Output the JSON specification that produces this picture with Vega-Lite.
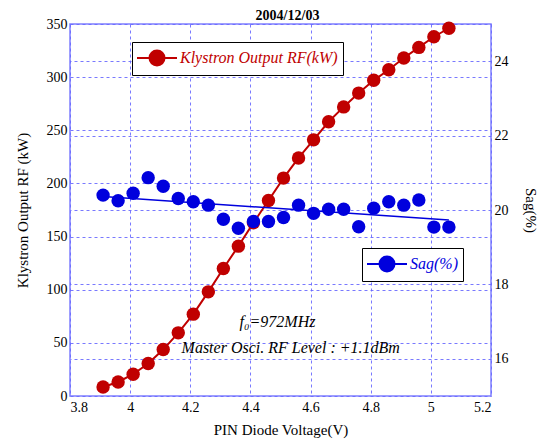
{
  "$schema": "https://vega.github.io/schema/vega-lite/v6.json",
  "width": 421,
  "height": 372,
  "autosize": {"type": "none"},
  "padding": {"left": 70, "top": 24, "right": 53, "bottom": 45},
  "background": "white",
  "title": {"text": "2004/12/03", "font": "Liberation Serif", "fontSize": 14, "fontWeight": "bold", "offset": -6, "dx": 7, "color": "black"},
  "config": {
    "font": "Liberation Serif",
    "view": {"stroke": "#7f7fff", "strokeWidth": 1.5},
    "axis": {
      "labelFont": "Liberation Serif", "labelFontSize": 14, "labelColor": "black",
      "titleFont": "Liberation Serif", "titleFontSize": 15, "titleFontWeight": "normal", "titleColor": "black",
      "domain": false, "ticks": false,
      "gridColor": "#6a6aff", "gridDash": [3, 3], "gridWidth": 1, "gridOpacity": 0.9
    }
  },
  "data": {"values": [
    {"v": 3.91, "rf": 8.5, "sag": 20.40},
    {"v": 3.96, "rf": 13.2, "sag": 20.25},
    {"v": 4.01, "rf": 20.5, "sag": 20.45},
    {"v": 4.06, "rf": 30.5, "sag": 20.87},
    {"v": 4.11, "rf": 43.7, "sag": 20.64},
    {"v": 4.16, "rf": 59.4, "sag": 20.31},
    {"v": 4.21, "rf": 77, "sag": 20.22},
    {"v": 4.26, "rf": 98, "sag": 20.13},
    {"v": 4.31, "rf": 120, "sag": 19.75},
    {"v": 4.36, "rf": 141, "sag": 19.51},
    {"v": 4.41, "rf": 163, "sag": 19.69},
    {"v": 4.46, "rf": 184, "sag": 19.69},
    {"v": 4.51, "rf": 205, "sag": 19.80},
    {"v": 4.56, "rf": 224, "sag": 20.13},
    {"v": 4.61, "rf": 241, "sag": 19.91},
    {"v": 4.66, "rf": 258, "sag": 20.02},
    {"v": 4.71, "rf": 272, "sag": 20.02},
    {"v": 4.76, "rf": 285, "sag": 19.55},
    {"v": 4.81, "rf": 297, "sag": 20.05},
    {"v": 4.86, "rf": 307, "sag": 20.22},
    {"v": 4.91, "rf": 318, "sag": 20.13},
    {"v": 4.96, "rf": 328, "sag": 20.27},
    {"v": 5.01, "rf": 338, "sag": 19.54},
    {"v": 5.06, "rf": 346, "sag": 19.54}
  ]},
  "encoding": {
    "x": {
      "field": "v", "type": "quantitative",
      "scale": {"domain": [3.8, 5.2], "nice": false},
      "axis": {"values": [3.8, 4, 4.2, 4.4, 4.6, 4.8, 5, 5.2], "format": "~g", "title": "PIN Diode Voltage(V)", "grid": true, "labelPadding": 4, "titlePadding": 8}
    }
  },
  "layer": [
    {
      "mark": {"type": "line", "color": "#c00000", "strokeWidth": 2, "point": {"filled": true, "size": 180, "color": "#c00000", "opacity": 1}},
      "encoding": {
        "y": {
          "field": "rf", "type": "quantitative",
          "scale": {"domain": [0, 350], "nice": false},
          "axis": {"values": [0, 50, 100, 150, 200, 250, 300, 350], "title": "Klystron Output RF (kW)", "grid": true, "titlePadding": 16, "labelPadding": 3}
        },
        "color": {
          "datum": "Klystron Output RF(kW)",
          "scale": {"range": ["#c00000"]},
          "legend": {
            "orient": "none", "legendX": 62, "legendY": 18, "title": null,
            "symbolType": "M-2,0L2,0M-0.75,0A0.75,0.75,0,1,1,0.75,0A0.75,0.75,0,1,1,-0.75,0Z",
            "symbolSize": 400, "symbolStrokeWidth": 2, "symbolFillColor": "#c00000", "symbolStrokeColor": "#c00000",
            "symbolOffset": 9, "labelLimit": 400,
            "labelFont": "Liberation Serif", "labelFontStyle": "italic", "labelFontSize": 16, "labelColor": "#c00000",
            "labelOffset": 12, "strokeColor": "black", "fillColor": "white", "padding": 5
          }
        }
      }
    },
    {
      "encoding": {
        "y": {
          "field": "sag", "type": "quantitative",
          "scale": {"domain": [15, 25], "nice": false},
          "axis": {"orient": "right", "values": [16, 18, 20, 22, 24], "title": "Sag(%)", "grid": true, "titlePadding": 14, "labelPadding": 3}
        }
      },
      "layer": [
        {
          "mark": {"type": "point", "filled": true, "size": 180, "opacity": 1},
          "encoding": {
            "color": {
              "datum": "Sag(%)",
              "scale": {"range": ["#0000dd"]},
              "legend": {
                "orient": "none", "legendX": 292, "legendY": 224, "title": null,
                "symbolType": "M-2,0L2,0M-0.75,0A0.75,0.75,0,1,1,0.75,0A0.75,0.75,0,1,1,-0.75,0Z",
                "symbolSize": 400, "symbolStrokeWidth": 2, "symbolFillColor": "#0000dd", "symbolStrokeColor": "#0000dd",
                "symbolOffset": 9, "labelLimit": 400,
                "labelFont": "Liberation Serif", "labelFontStyle": "italic", "labelFontSize": 16, "labelColor": "#0000dd",
                "labelOffset": 12, "strokeColor": "black", "fillColor": "white", "padding": 5
              }
            }
          }
        },
        {
          "transform": [{"regression": "sag", "on": "v"}],
          "mark": {"type": "line", "color": "#0000dd", "strokeWidth": 1.5}
        }
      ]
    },
    {
      "data": {"values": [
        {"note": "f₀=972MHz", "nx": 4.49, "ny": 70},
        {"note": "Master Osci. RF Level : +1.1dBm", "nx": 4.534, "ny": 45}
      ]},
      "mark": {"type": "text", "fontStyle": "italic", "fontSize": 16, "font": "Liberation Serif", "color": "black"},
      "encoding": {
        "x": {"field": "nx", "type": "quantitative"},
        "y": {"field": "ny", "type": "quantitative", "scale": {"domain": [0, 350], "nice": false}, "axis": null},
        "text": {"field": "note", "type": "nominal"}
      }
    }
  ],
  "resolve": {"scale": {"y": "independent", "color": "independent"}}
}
